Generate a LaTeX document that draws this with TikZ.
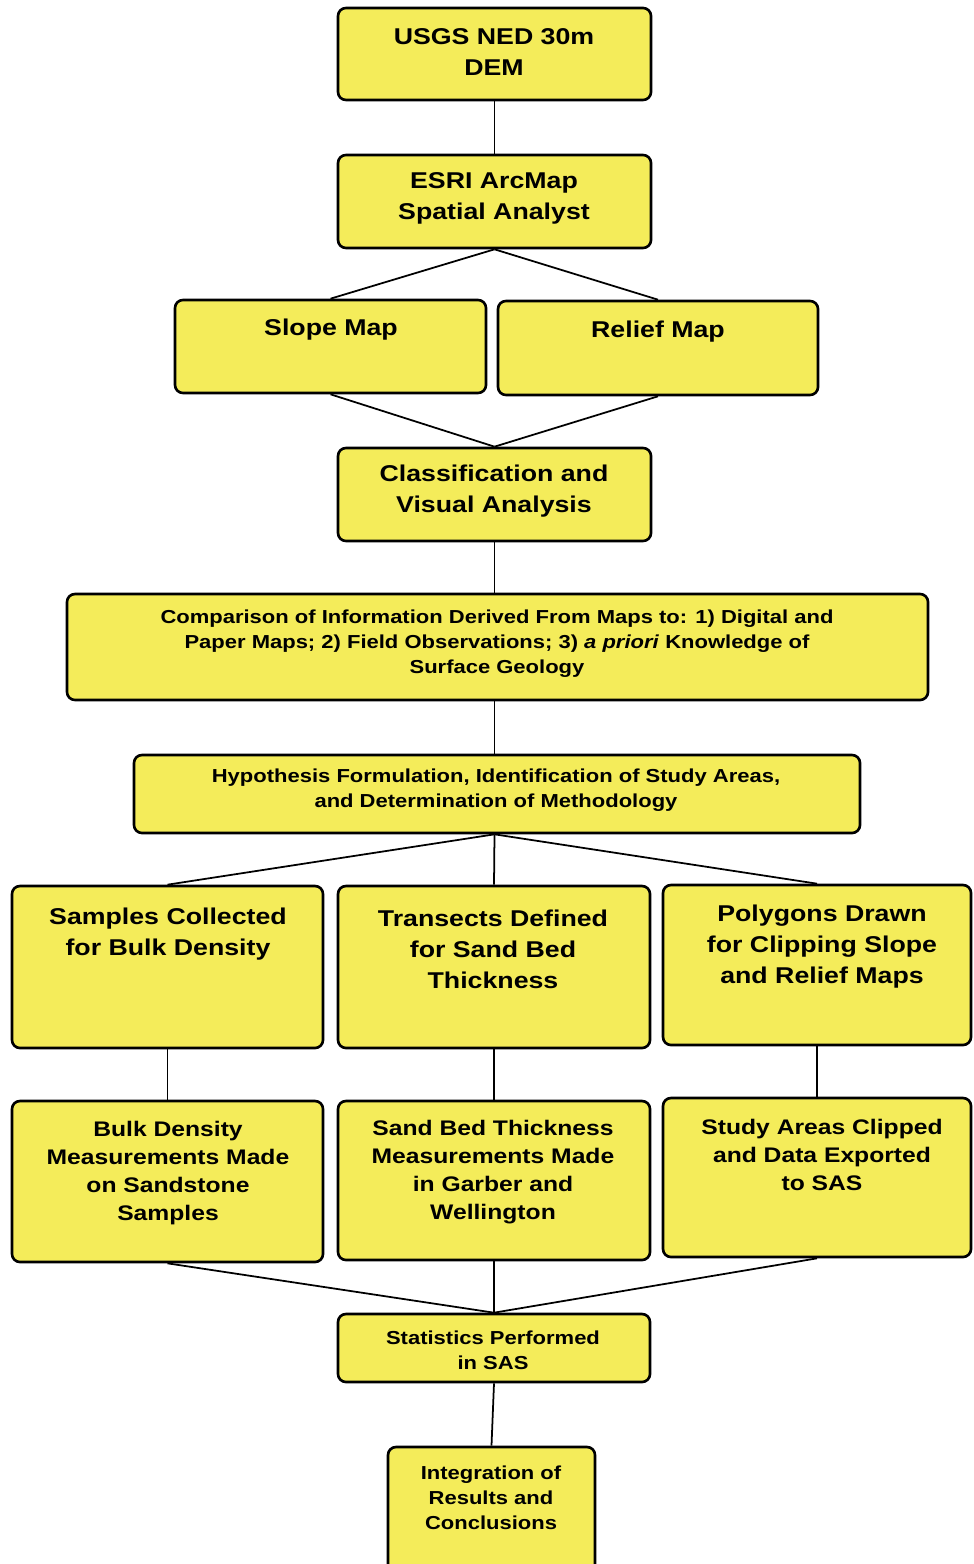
\documentclass[tikz,border=0pt]{standalone}
\usepackage{fontspec}
\setmainfont{Liberation Sans}[FakeStretch=1.17]
\usetikzlibrary{fit}
\definecolor{boxYellow}{RGB}{244,236,90}

\begin{document}
\begin{tikzpicture}[x=0.02cm, y=-0.02cm]
	\tikzstyle{boxStyle}=[draw, line width=1.5pt, fill=boxYellow, rounded corners=0.16cm, inner sep=0pt]
	\tikzstyle{bigText}=[font=\fontsize{13}{17.6}\selectfont\bfseries, align=center, inner sep=0pt]
	\tikzstyle{midText}=[font=\fontsize{12}{15.9}\selectfont\bfseries, align=center, inner sep=0pt]
	\tikzstyle{smallText}=[font=\fontsize{10.7}{14.2}\selectfont\bfseries, align=center, inner sep=0pt]
	\tikzstyle{EdgeStyle}=[line width=1pt]
	\clip (0,0) rectangle (973,1564);
	\node[boxStyle, fit={(338,8) (651,100)}] (dem) {};
	\node[boxStyle, fit={(338,155) (651,248)}] (esri) {};
	\node[boxStyle, fit={(175,300) (486,393)}] (slope) {};
	\node[boxStyle, fit={(498,301) (818,395)}] (relief) {};
	\node[boxStyle, fit={(338,448) (651,541)}] (class) {};
	\node[boxStyle, fit={(67,594) (928,700)}] (comp) {};
	\node[boxStyle, fit={(134,755) (860,833)}] (hyp) {};
	\node[boxStyle, fit={(12,886) (323,1048)}] (samples) {};
	\node[boxStyle, fit={(338,886) (650,1048)}] (transects) {};
	\node[boxStyle, fit={(663,885) (971,1045)}] (polygons) {};
	\node[boxStyle, fit={(12,1101) (323,1262)}] (bulk) {};
	\node[boxStyle, fit={(338,1101) (650,1260)}] (sandbed) {};
	\node[boxStyle, fit={(663,1098) (971,1257)}] (study) {};
	\node[boxStyle, fit={(338,1314) (650,1382)}] (stats) {};
	\node[boxStyle, fit={(388,1447) (595,1580)}] (integ) {};
	\node[bigText] (demText) at (494,52) {USGS NED 30m\\DEM};
	\node[bigText] (esriText) at (494,198) {ESRI ArcMap\\Spatial Analyst};
	\node[bigText] (slopeText) at (331,330) {Slope Map};
	\node[bigText] (reliefText) at (658,332) {Relief Map};
	\node[bigText] (classText) at (494,491) {Classification and\\Visual Analysis};
	\node[smallText] (compText) at (497,644) {Comparison of Information Derived From Maps to: 1) Digital and\\Paper Maps; 2) Field Observations; 3) \textit{a priori} Knowledge of\\Surface Geology};
	\node[smallText] (hypText) at (496,790) {Hypothesis Formulation, Identification of Study Areas,\\and Determination of Methodology};
	\node[bigText] (samplesText) at (168,934) {Samples Collected\\for Bulk Density};
	\node[bigText] (transectsText) at (493,949) {Transects Defined\\for Sand Bed\\Thickness};
	\node[bigText] (polygonsText) at (822,947) {Polygons Drawn\\for Clipping Slope\\and Relief Maps};
	\node[midText] (bulkText) at (168,1173) {Bulk Density\\Measurements Made\\on Sandstone\\Samples};
	\node[midText] (sandbedText) at (493,1172) {Sand Bed Thickness\\Measurements Made\\in Garber and\\Wellington};
	\node[midText] (studyText) at (822,1155) {Study Areas Clipped\\and Data Exported\\to SAS};
	\node[smallText] (statsText) at (493,1350) {Statistics Performed\\in SAS};
	\node[smallText] (integText) at (491,1498) {Integration of\\Results and\\Conclusions};
	\draw[EdgeStyle] (dem.south) -- (esri.north);
	\draw[EdgeStyle] (esri.south) -- (slope.north);
	\draw[EdgeStyle] (esri.south) -- (relief.north);
	\draw[EdgeStyle] (slope.south) -- (class.north);
	\draw[EdgeStyle] (relief.south) -- (class.north);
	\draw[EdgeStyle] (class.south) -- (class.south |- comp.north);
	\draw[EdgeStyle] (comp.south -| class.south) -- (class.south |- hyp.north);
	\draw[EdgeStyle] (hyp.south -| class.south) -- (samples.north);
	\draw[EdgeStyle] (hyp.south -| class.south) -- (transects.north);
	\draw[EdgeStyle] (hyp.south -| class.south) -- (polygons.north);
	\draw[EdgeStyle] (samples.south) -- (bulk.north);
	\draw[EdgeStyle] (transects.south) -- (sandbed.north);
	\draw[EdgeStyle] (polygons.south) -- (study.north);
	\draw[EdgeStyle] (bulk.south) -- (stats.north);
	\draw[EdgeStyle] (sandbed.south) -- (stats.north);
	\draw[EdgeStyle] (study.south) -- (stats.north);
	\draw[EdgeStyle] (stats.south) -- (integ.north);
\end{tikzpicture}
\end{document}
